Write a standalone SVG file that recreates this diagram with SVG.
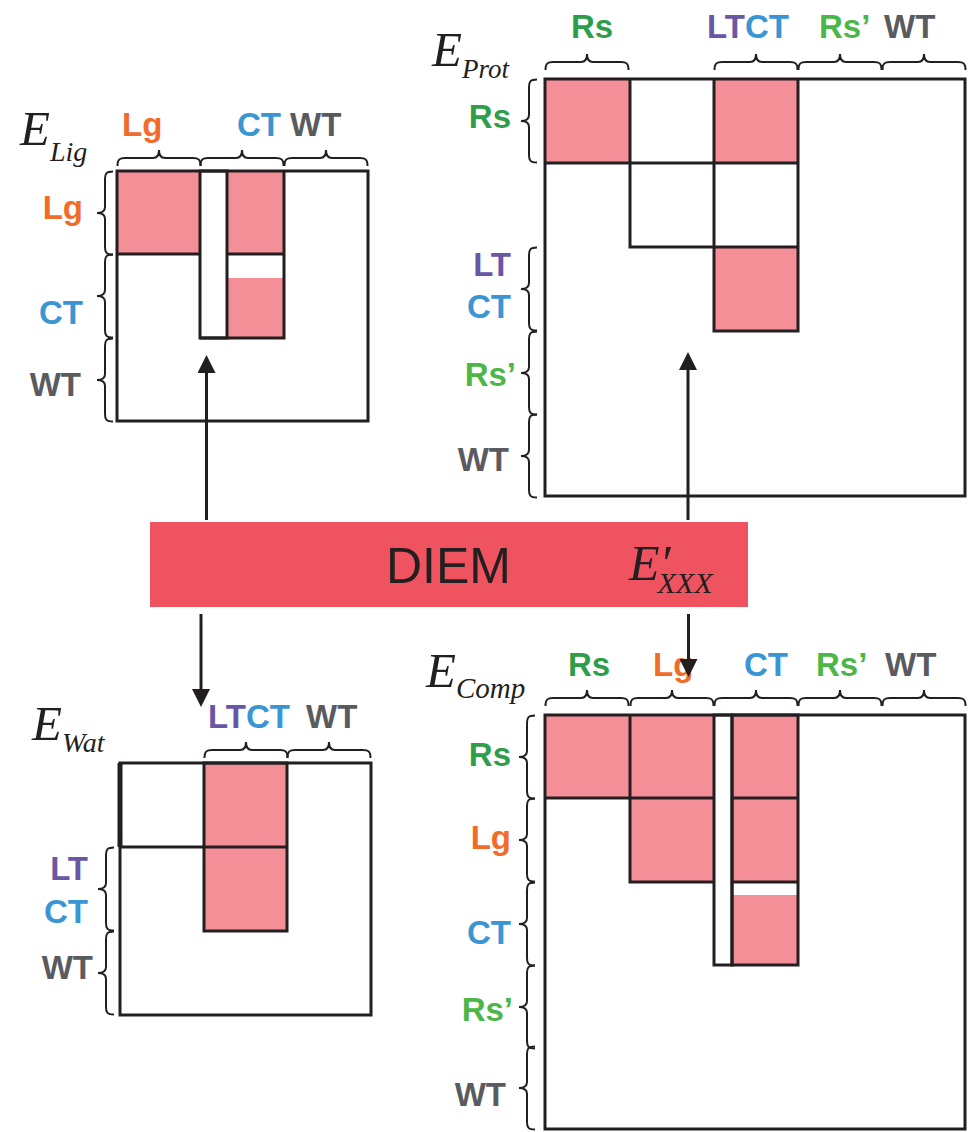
<svg xmlns="http://www.w3.org/2000/svg" xmlns:xlink="http://www.w3.org/1999/xlink" width="973" height="1132" viewBox="0 0 973 1132">
  <style>
    .lbl { font-family: "Liberation Sans", Arial, sans-serif; font-weight: bold; font-size: 33px; }
    .rs { fill: #2E9E4A; }
    .rs2 { fill: #4CB748; }
    .lg { fill: #F26B2A; }
    .ct { fill: #3A95D3; }
    .wt { fill: #5A5B5E; }
    .lt { fill: #6957A6; }
    .math { font-family: "Liberation Serif", "Times New Roman", serif; font-style: italic; fill: #231F20; }
    .cell { fill: #F48F98; }
    .ln { fill: none; stroke: #231F20; stroke-width: 3; }
    .br { fill: none; stroke: #231F20; stroke-width: 2; }
    .arrow { fill: none; stroke: #231F20; stroke-width: 3; }
  </style>
  <defs>
    <!-- curly brace, opening downward, 84 wide -->
    <path id="hb" class="br" d="M0.5,16 C0.5,9 3,8 8,8 L36,8 C40,8 42,6 42,0 C42,6 44,8 48,8 L76,8 C81,8 83.5,9 83.5,16"/>
    <!-- curly brace, opening right, 84 tall -->
    <path id="vb" class="br" d="M16,0.5 C9,0.5 8,3 8,8 L8,36 C8,40 6,42 0,42 C6,42 8,44 8,48 L8,76 C8,81 9,83.5 16,83.5"/>
    <marker id="ah" viewBox="0 0 18 18" refX="0" refY="9" markerWidth="18" markerHeight="18" markerUnits="userSpaceOnUse" orient="auto">
      <path d="M0,0 L18,9 L0,18 z" fill="#231F20"/>
    </marker>
  </defs>

  <!-- ligand block matrix -->
  <g id="e-lig">
    <text class="math" x="20" y="145" font-size="49">E<tspan font-size="28" dy="16">Lig</tspan></text>
    <text class="lbl lg" x="122" y="136">Lg</text>
    <text class="lbl ct" x="237" y="136">CT</text>
    <text class="lbl wt" x="290" y="136">WT</text>
    <use xlink:href="#hb" x="117" y="150"/>
    <use xlink:href="#hb" x="200" y="150"/>
    <use xlink:href="#hb" x="284" y="150"/>
    <text class="lbl lg" x="83" y="219" text-anchor="end">Lg</text>
    <text class="lbl ct" x="83" y="324" text-anchor="end">CT</text>
    <text class="lbl wt" x="81" y="396" text-anchor="end">WT</text>
    <use xlink:href="#vb" x="97" y="171"/>
    <use xlink:href="#vb" x="97" y="254"/>
    <use xlink:href="#vb" x="97" y="338"/>
    <rect class="cell" x="117" y="171" width="83" height="83"/>
    <rect class="cell" x="227" y="171" width="57" height="83"/>
    <rect class="cell" x="227" y="278" width="57" height="60"/>
    <rect class="ln" x="117" y="171" width="251" height="250"/>
    <path class="ln" d="M117,254 H200 M227,254 H284 M284,171 V338 H200"/>
    <rect class="ln" x="200" y="171" width="27" height="167"/>
  </g>

  <!-- protein block matrix -->
  <g id="e-prot">
    <text class="math" x="432" y="66" font-size="49">E<tspan font-size="27" dy="12">Prot</tspan></text>
    <text class="lbl rs" x="571" y="38">Rs</text>
    <text class="lbl" x="707" y="38"><tspan class="lt">LT</tspan><tspan class="ct">CT</tspan></text>
    <text class="lbl rs2" x="819" y="38">Rs’</text>
    <text class="lbl wt" x="884" y="38">WT</text>
    <use xlink:href="#hb" x="545" y="54"/>
    <use xlink:href="#hb" x="714" y="54"/>
    <use xlink:href="#hb" x="798" y="54"/>
    <use xlink:href="#hb" x="882" y="54"/>
    <text class="lbl rs" x="511" y="128" text-anchor="end">Rs</text>
    <text class="lbl lt" x="511" y="276" text-anchor="end">LT</text>
    <text class="lbl ct" x="511" y="318" text-anchor="end">CT</text>
    <text class="lbl rs2" x="516" y="386" text-anchor="end">Rs’</text>
    <text class="lbl wt" x="509" y="471" text-anchor="end">WT</text>
    <use xlink:href="#vb" x="521" y="79"/>
    <use xlink:href="#vb" x="521" y="247"/>
    <use xlink:href="#vb" x="521" y="331"/>
    <use xlink:href="#vb" x="521" y="414"/>
    <rect class="cell" x="545" y="79" width="85" height="84"/>
    <rect class="cell" x="714" y="79" width="84" height="84"/>
    <rect class="cell" x="714" y="247" width="84" height="84"/>
    <rect class="ln" x="545" y="79" width="420" height="417"/>
    <path class="ln" d="M545,163 H798 M630,79 V247 H714 M714,79 V331 H798 V79 M714,247 H798"/>
  </g>

  <!-- engine bar -->
  <g id="diem">
    <rect x="150" y="522" width="598" height="85" fill="#EF5360"/>
    <text x="386" y="583" font-family="Liberation Sans, Arial, sans-serif" font-size="50" fill="#231F20">DIEM</text>
    <text class="math" x="629" y="580" font-size="50">E′<tspan font-size="30" dx="-13" dy="13">XXX</tspan></text>
  </g>

  <!-- water block matrix -->
  <g id="e-wat">
    <text class="math" x="32" y="740" font-size="49">E<tspan font-size="28" dy="12">Wat</tspan></text>
    <text class="lbl" x="208" y="728"><tspan class="lt">LT</tspan><tspan class="ct">CT</tspan></text>
    <text class="lbl wt" x="306" y="728">WT</text>
    <use xlink:href="#hb" x="204" y="742"/>
    <use xlink:href="#hb" x="287" y="742"/>
    <text class="lbl lt" x="88" y="880" text-anchor="end">LT</text>
    <text class="lbl ct" x="88" y="923" text-anchor="end">CT</text>
    <text class="lbl wt" x="93" y="979" text-anchor="end">WT</text>
    <use xlink:href="#vb" x="98" y="847"/>
    <use xlink:href="#vb" x="98" y="931"/>
    <rect class="cell" x="204" y="763" width="83" height="168"/>
    <rect class="ln" x="120" y="763" width="251" height="252"/>
    <path class="ln" d="M120,847 H287" />
    <path d="M120,763 V847" stroke="#231F20" stroke-width="5"/>
    <rect class="ln" x="204" y="763" width="83" height="168"/>
  </g>

  <!-- complex block matrix -->
  <g id="e-comp">
    <text class="math" x="426" y="687" font-size="49">E<tspan font-size="29" dy="11">Comp</tspan></text>
    <text class="lbl rs" x="568" y="676">Rs</text>
    <text class="lbl lg" x="653" y="676">Lg</text>
    <text class="lbl ct" x="744" y="676">CT</text>
    <text class="lbl rs2" x="816" y="676">Rs’</text>
    <text class="lbl wt" x="885" y="676">WT</text>
    <use xlink:href="#hb" x="545" y="690"/>
    <use xlink:href="#hb" x="630" y="690"/>
    <use xlink:href="#hb" x="714" y="690"/>
    <use xlink:href="#hb" x="798" y="690"/>
    <use xlink:href="#hb" x="882" y="690"/>
    <text class="lbl rs" x="511" y="766" text-anchor="end">Rs</text>
    <text class="lbl lg" x="511" y="849" text-anchor="end">Lg</text>
    <text class="lbl ct" x="511" y="944" text-anchor="end">CT</text>
    <text class="lbl rs2" x="513" y="1021" text-anchor="end">Rs’</text>
    <text class="lbl wt" x="506" y="1106" text-anchor="end">WT</text>
    <use xlink:href="#vb" x="519" y="715"/>
    <use xlink:href="#vb" x="519" y="798"/>
    <use xlink:href="#vb" x="519" y="882"/>
    <use xlink:href="#vb" x="519" y="965"/>
    <use xlink:href="#vb" x="519" y="1046"/>
    <rect class="cell" x="545" y="715" width="85" height="83"/>
    <rect class="cell" x="630" y="715" width="84" height="167"/>
    <rect class="cell" x="732" y="715" width="66" height="167"/>
    <rect class="cell" x="732" y="895" width="66" height="70"/>
    <rect class="ln" x="545" y="715" width="420" height="414"/>
    <path class="ln" d="M545,798 H714 M732,798 H798 M630,715 V882 H714 M732,882 H798"/>
    <rect class="ln" x="714" y="715" width="18" height="250"/>
    <rect class="ln" x="732" y="715" width="66" height="250"/>
  </g>

  <!-- connectors from the engine bar -->
  <g id="connectors">
    <path class="arrow" d="M206.5,520 V373" marker-end="url(#ah)"/>
    <path class="arrow" d="M688,520 V370" marker-end="url(#ah)"/>
    <path class="arrow" d="M201,614 V689" marker-end="url(#ah)"/>
    <path class="arrow" d="M688.5,614 V659" marker-end="url(#ah)"/>
  </g>
</svg>
